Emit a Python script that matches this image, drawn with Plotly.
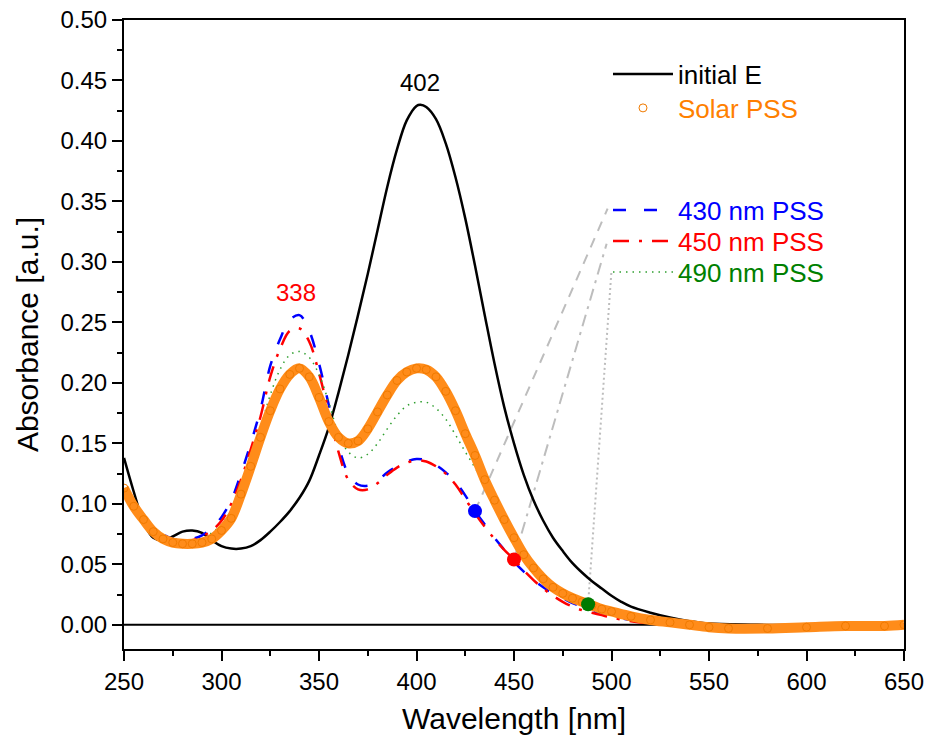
import plotly.graph_objects as go

# ---------------- data ----------------
wl_initial = [250, 255, 260, 265, 270, 275, 280, 285, 290, 295, 300, 305, 310, 315, 320, 325, 330, 335, 340, 345,
              350, 355, 360, 365, 370, 375, 380, 385, 390, 395, 400, 402, 405, 410, 415, 420, 425, 430, 435, 440,
              445, 450, 455, 460, 465, 470, 475, 480, 485, 490, 495, 500, 505, 510, 520, 530, 540, 550, 575, 600, 625, 650]
abs_initial = [0.138, 0.110, 0.085, 0.072, 0.070, 0.073, 0.077, 0.078, 0.076, 0.070, 0.065, 0.063, 0.063, 0.065, 0.070,
               0.077, 0.085, 0.094, 0.105, 0.119, 0.140, 0.163, 0.192, 0.223, 0.256, 0.290, 0.326, 0.362, 0.393, 0.417,
               0.429, 0.430, 0.428, 0.418, 0.398, 0.370, 0.336, 0.297, 0.256, 0.216, 0.180, 0.150, 0.124, 0.103, 0.086,
               0.072, 0.061, 0.051, 0.043, 0.036, 0.030, 0.024, 0.019, 0.015, 0.010, 0.006, 0.003, 0.001, 0.000, -0.001,
               0.000, 0.000]

wl = [250, 255, 260, 265, 270, 275, 280, 285, 290, 295, 300, 305, 310, 315, 320, 325, 330, 335, 340, 345,
      350, 355, 360, 365, 370, 375, 380, 385, 390, 395, 400, 405, 410, 415, 420, 425, 430, 435, 440, 445,
      450, 455, 460, 465, 470, 475, 480, 485, 490, 495, 500, 510, 520, 530, 540, 550, 560, 580, 600, 620, 640, 650]
abs_solar = [0.113, 0.098, 0.087, 0.077, 0.071, 0.068, 0.067, 0.067, 0.068, 0.071, 0.078, 0.088, 0.108, 0.131, 0.155,
             0.177, 0.195, 0.207, 0.212, 0.205, 0.188, 0.168, 0.155, 0.150, 0.152, 0.162, 0.176, 0.190, 0.202, 0.209,
             0.212, 0.211, 0.205, 0.193, 0.177, 0.158, 0.140, 0.120, 0.103, 0.087, 0.072, 0.058, 0.047, 0.038, 0.031,
             0.026, 0.022, 0.019, 0.016, 0.013, 0.011, 0.007, 0.004, 0.002, 0.000, -0.002, -0.003, -0.003, -0.002,
             -0.001, -0.001, 0.000]
abs_430 = [0.112, 0.100, 0.090, 0.081, 0.075, 0.071, 0.070, 0.071, 0.074, 0.080, 0.089, 0.103, 0.125, 0.150, 0.178,
           0.214, 0.236, 0.252, 0.256, 0.243, 0.216, 0.182, 0.148, 0.125, 0.116, 0.115, 0.119, 0.126, 0.131, 0.135,
           0.137, 0.136, 0.132, 0.126, 0.118, 0.107, 0.094, 0.083, 0.072, 0.062, 0.052, 0.044, 0.037, 0.031, 0.026,
           0.022, 0.018, 0.015, 0.012, 0.009, 0.007, 0.004, 0.002, 0.000, -0.001, -0.002, -0.002, -0.002, -0.002,
           -0.001, -0.001, 0.000]
abs_450 = [0.110, 0.097, 0.087, 0.079, 0.074, 0.070, 0.069, 0.070, 0.073, 0.078, 0.086, 0.100, 0.120, 0.145, 0.172,
           0.205, 0.228, 0.243, 0.245, 0.234, 0.208, 0.176, 0.143, 0.120, 0.112, 0.112, 0.117, 0.124, 0.130, 0.134,
           0.136, 0.135, 0.131, 0.125, 0.116, 0.104, 0.092, 0.081, 0.071, 0.062, 0.054, 0.045, 0.037, 0.030, 0.024,
           0.019, 0.015, 0.012, 0.010, 0.008, 0.006, 0.003, 0.001, 0.000, -0.001, -0.002, -0.002, -0.002, -0.002,
           -0.001, -0.001, 0.000]
abs_490 = [0.111, 0.098, 0.088, 0.079, 0.073, 0.070, 0.069, 0.069, 0.071, 0.076, 0.083, 0.095, 0.114, 0.138, 0.163,
           0.190, 0.211, 0.223, 0.226, 0.221, 0.207, 0.184, 0.158, 0.143, 0.138, 0.141, 0.150, 0.162, 0.173, 0.181,
           0.184, 0.184, 0.179, 0.170, 0.157, 0.143, 0.130, 0.116, 0.100, 0.084, 0.069, 0.056, 0.045, 0.037, 0.030,
           0.025, 0.021, 0.018, 0.016, 0.013, 0.011, 0.007, 0.004, 0.002, 0.000, -0.001, -0.002, -0.002, -0.002,
           -0.001, -0.001, 0.000]

# irradiation wavelengths marked on the curves, and where the leader lines end (legend entries)
mark_wl = [430, 450, 488]
mark_abs = [0.094, 0.054, 0.017]
leader_end_wl = [498, 497.5, 500]
leader_end_abs = [0.344, 0.315, 0.293]

peak_labels = [("402", 402, 0.448, "black"), ("338", 338, 0.275, "red")]

x_ticks = [250, 300, 350, 400, 450, 500, 550, 600, 650]
y_ticks = [0.00, 0.05, 0.10, 0.15, 0.20, 0.25, 0.30, 0.35, 0.40, 0.45, 0.50]

# ---------------- figure ----------------
FONT = "Liberation Sans, Arial, sans-serif"
fig = go.Figure()

# leader lines (grey)
leader_dash = ["10px,8px", "12px,6px,3px,6px", "2px,3px"]
for i in range(3):
    fig.add_trace(go.Scatter(x=[mark_wl[i], leader_end_wl[i]], y=[mark_abs[i], leader_end_abs[i]],
                             mode="lines", line=dict(color="#BDBDBD", width=2, dash=leader_dash[i]),
                             showlegend=False, hoverinfo="skip"))

# zero line
fig.add_trace(go.Scatter(x=[x_ticks[0], x_ticks[-1]], y=[0, 0], mode="lines",
                         line=dict(color="black", width=2), showlegend=False, hoverinfo="skip"))

fig.add_trace(go.Scatter(x=wl_initial, y=abs_initial, mode="lines", name="initial E",
                         line=dict(color="black", width=2.5, shape="spline"), legend="legend"))

fig.add_trace(go.Scatter(x=wl, y=abs_430, mode="lines", name="<span style='color:#0000FF'>430 nm PSS</span>",
                         line=dict(color="#0000FF", width=2.5, dash="13px,18px", shape="spline"), legend="legend3"))
fig.add_trace(go.Scatter(x=wl, y=abs_450, mode="lines", name="<span style='color:#FF0000'>450 nm PSS</span>",
                         line=dict(color="#FF0000", width=2.5, dash="16px,10px,3px,10px", shape="spline"),
                         legend="legend4"))
fig.add_trace(go.Scatter(x=wl, y=abs_490, mode="lines", name="<span style='color:#008000'>490 nm PSS</span>",
                         line=dict(color="#2E9E2E", width=1.5, dash="1.5px,5px", shape="spline"),
                         legend="legend5"))

# Solar PSS: dense open circles -> thick band
fig.add_trace(go.Scatter(x=wl, y=abs_solar, mode="lines", line=dict(color="#FF8C1A", width=10, shape="spline"),
                         showlegend=False, hoverinfo="skip"))
fig.add_trace(go.Scatter(x=wl, y=abs_solar, mode="markers", name="<span style='color:#FF8000'>Solar PSS</span>",
                         marker=dict(symbol="circle-open", size=8, color="#F07A00", line=dict(width=1)),
                         legend="legend2"))

# marker dots
fig.add_trace(go.Scatter(x=mark_wl, y=mark_abs, mode="markers",
                         marker=dict(size=14, color=["#0000FF", "#FF0000", "#007A00"]),
                         showlegend=False, hoverinfo="skip"))

for txt, xx, yy, col in peak_labels:
    fig.add_annotation(x=xx, y=yy, text=txt, showarrow=False, font=dict(family=FONT, size=24, color=col))

axis_common = dict(showline=True, linecolor="black", linewidth=2, mirror=True, ticks="outside",
                   ticklen=10, tickwidth=2, tickcolor="black", showgrid=False, zeroline=False,
                   automargin=False, tickfont=dict(family=FONT, size=24, color="black"))

fig.update_xaxes(range=[250, 650], tickvals=x_ticks, ticktext=[str(v) for v in x_ticks],
                 minor=dict(ticks="outside", ticklen=5, tickwidth=2, tickcolor="black", dtick=25, tick0=250),
                 title=dict(text="Wavelength [nm]", font=dict(family=FONT, size=30, color="black"), standoff=14),
                 **axis_common)
fig.update_yaxes(range=[-0.02, 0.5], tickvals=y_ticks, ticktext=[f"{v:.2f}" for v in y_ticks],
                 minor=dict(ticks="outside", ticklen=5, tickwidth=2, tickcolor="black", dtick=0.025, tick0=0),
                 title=dict(text="Absorbance [a.u.]", font=dict(family=FONT, size=30, color="black"), standoff=13),
                 **axis_common)

legend_centers_px = [74, 108, 210, 241, 272]
legend_keys = ["legend", "legend2", "legend3", "legend4", "legend5"]
plot_top, plot_h = 20, 629
legend_layout = {}
for key, cy in zip(legend_keys, legend_centers_px):
    legend_layout[key] = dict(x=0.6205, y=1 - (cy - plot_top) / plot_h, xanchor="left", yanchor="middle",
                              bgcolor="rgba(0,0,0,0)", font=dict(family=FONT, size=26), itemwidth=60)

fig.update_layout(
    width=930, height=740,
    margin=dict(l=124, r=26, t=20, b=91, autoexpand=False),
    plot_bgcolor="white", paper_bgcolor="white",
    font=dict(family=FONT, size=24, color="black"),
    **legend_layout,
)

fig.write_html("out.html", config={"displayModeBar": False},
               post_script="document.body.style.margin='0';document.body.style.overflow='hidden';")
